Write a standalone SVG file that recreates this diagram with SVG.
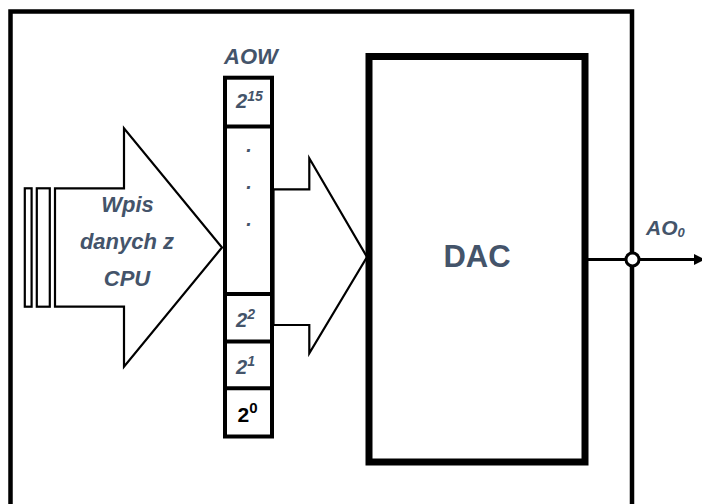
<svg xmlns="http://www.w3.org/2000/svg" width="702" height="504" viewBox="0 0 702 504">
<style>
.lbl{font-family:"Liberation Sans",Arial,sans-serif;font-weight:bold;font-style:italic;fill:#44546A}
.thin{fill:#fff;stroke:#000;stroke-width:2.2;stroke-linejoin:miter}
.reg{fill:#fff;stroke:#000;stroke-width:4}
</style>
<rect width="702" height="504" fill="#fff"/>
<g id="frame">
<path d="M10.5 520 V11.5 H632 V520" fill="none" stroke="#000" stroke-width="4.5"/>
</g>
<g id="cpu-arrow">
<rect class="thin" x="24.8" y="188.3" width="6.8" height="118.4"/>
<rect class="thin" x="36.8" y="188.3" width="13" height="118.4"/>
<polygon class="thin" points="55,188.3 124,188.3 124,128.3 222,247.5 124,366.7 124,306.7 55,306.7"/>
<text class="lbl" font-size="22" text-anchor="middle"><tspan x="127.5" y="212">Wpis</tspan><tspan x="127" y="249">danych z</tspan><tspan x="127" y="286">CPU</tspan></text>
</g>
<g id="aow">
<text class="lbl" x="251" y="63.5" font-size="22" text-anchor="middle">AOW</text>
<rect class="reg" x="225" y="77.7" width="47" height="358.8"/>
<line x1="225" y1="126.5" x2="272" y2="126.5" stroke="#000" stroke-width="4"/>
<line x1="225" y1="294" x2="272" y2="294" stroke="#000" stroke-width="4"/>
<line x1="225" y1="341.5" x2="272" y2="341.5" stroke="#000" stroke-width="4"/>
<line x1="225" y1="388.3" x2="272" y2="388.3" stroke="#000" stroke-width="4"/>
<text class="lbl" x="236" y="108" font-size="20">2<tspan font-size="14" dy="-7">15</tspan></text>
<text class="lbl" x="249" y="152" font-size="20" text-anchor="middle">.</text>
<text class="lbl" x="249" y="189" font-size="20" text-anchor="middle">.</text>
<text class="lbl" x="249" y="226" font-size="20" text-anchor="middle">.</text>
<text class="lbl" x="236" y="327" font-size="20">2<tspan font-size="14" dy="-8">2</tspan></text>
<text class="lbl" x="236" y="373.5" font-size="20">2<tspan font-size="14" dy="-8">1</tspan></text>
<text x="237.5" y="422" font-size="21" font-family="Liberation Sans,Arial,sans-serif" font-weight="bold" fill="#000">2<tspan font-size="15" dy="-9">0</tspan></text>
</g>
<g id="bus-arrow">
<polygon class="thin" points="273.5,189.3 309.3,189.3 309.3,158.3 367,257 309.3,353.3 309.3,325 273.5,325"/>
</g>
<g id="dac">
<rect x="369" y="56.5" width="216" height="405.5" fill="#fff" stroke="#000" stroke-width="7"/>
<text x="477" y="267" font-size="31" text-anchor="middle" font-family="Liberation Sans,Arial,sans-serif" font-weight="bold" fill="#44546A">DAC</text>
</g>
<g id="connectors">
<line x1="588" y1="259.5" x2="696" y2="259.5" stroke="#000" stroke-width="3"/>
<polygon points="694,254 705,259.5 694,265" fill="#000"/>
<circle cx="632.5" cy="259.5" r="6.5" fill="#fff" stroke="#000" stroke-width="3"/>
</g>
<g id="ao0">
<text class="lbl" x="646" y="235" font-size="21">AO<tspan font-size="13" dy="2">0</tspan></text>
</g>
</svg>
